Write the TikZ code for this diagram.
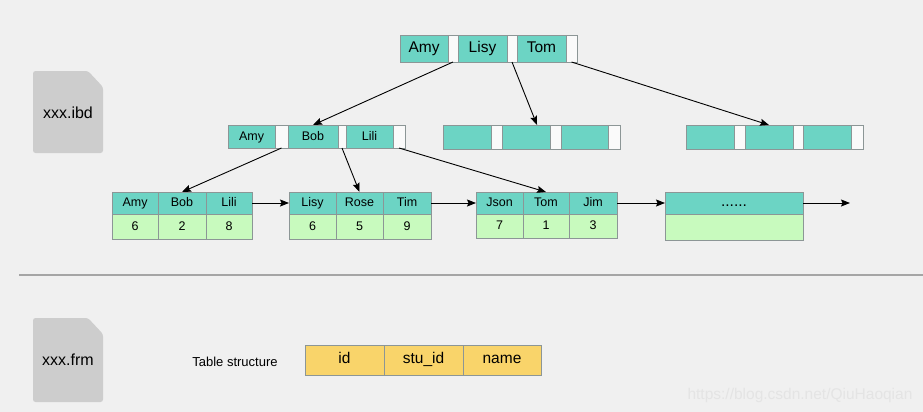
\documentclass[tikz,border=0pt]{standalone}
\usepackage{fontspec}
\setmainfont{Liberation Sans}
\usetikzlibrary{arrows.meta,shadows,calc}
\definecolor{bg}{RGB}{240,240,240}
\definecolor{teal1}{RGB}{108,212,196}
\definecolor{green1}{RGB}{200,250,190}
\definecolor{yellow1}{RGB}{249,212,106}
\definecolor{white1}{RGB}{250,250,250}
\definecolor{cellborder}{RGB}{140,150,150}
\definecolor{filegray}{RGB}{205,205,205}
\definecolor{sepgray}{RGB}{165,165,165}
\definecolor{wmark}{RGB}{228,228,228}
\newcommand\cellbox[7]{\node[#6, minimum width={#4-#2}, minimum height={#5-#3}] (#1) at (#2,#3) {#7};}
\begin{document}
\begin{tikzpicture}[x=1pt,y=-1pt,
  cell/.style={draw=cellborder, line width=0.8pt, anchor=north west, inner sep=0pt, outer sep=0pt, text=black,
    text height=1.75ex, text depth=0.35ex,
    drop shadow={shadow xshift=0pt, shadow yshift=-1.3pt, opacity=0.25}},
  tealc/.style={cell, fill=teal1},
  whitec/.style={cell, fill=white1},
  greenc/.style={cell, fill=green1},
  yellowc/.style={cell, fill=yellow1, font=\fontsize{15.5}{18}\selectfont},
  rootf/.style={font=\fontsize{15.5}{18}\selectfont},
  midf/.style={font=\fontsize{12.5}{15}\selectfont},
  arr/.style={-{Stealth[length=9pt,width=7pt,inset=1.5pt]}, line width=0.9pt, black},
  filebox/.style={fill=filegray, rounded corners=2.5pt},
  filetext/.style={font=\fontsize{16}{19}\selectfont}]
\fill[bg] (0,0) rectangle (923,412);
\useasboundingbox (0,0) rectangle (923,412);

% file icons
\fill[filebox] (33,71) -- (88,71) -- (103,87) -- (103,153) -- (33,153) -- cycle;
\node[filetext] (ibd) at (68,113) {xxx.ibd};
\fill[filebox] (33,318) -- (88,318) -- (103,334) -- (103,402) -- (33,402) -- cycle;
\node[filetext] (frm) at (68,360) {xxx.frm};

% separator
\draw[sepgray, line width=1.3pt] (19,275) -- (923,275);

% root
\cellbox{r1}{400}{35}{448}{62}{tealc,rootf}{Amy}
\cellbox{r1w}{448}{35}{458}{62}{whitec}{}
\cellbox{r2}{458}{35}{507}{62}{tealc,rootf}{Lisy}
\cellbox{r2w}{507}{35}{517}{62}{whitec}{}
\cellbox{r3}{517}{35}{566}{62}{tealc,rootf}{Tom}
\cellbox{r3w}{566}{35}{577}{62}{whitec}{}

% level 2 left
\cellbox{la}{228}{125}{275}{148}{tealc,midf}{Amy}
\cellbox{law}{275}{125}{288}{148}{whitec}{}
\cellbox{lb}{288}{125}{338}{148}{tealc,midf}{Bob}
\cellbox{lbw}{338}{125}{346}{148}{whitec}{}
\cellbox{lc}{346}{125}{393}{148}{tealc,midf}{Lili}
\cellbox{lcw}{393}{125}{405}{148}{whitec}{}

% level 2 middle
\cellbox{m1}{443}{125}{491}{149}{tealc}{}
\cellbox{m1w}{491}{125}{502}{149}{whitec}{}
\cellbox{m2}{502}{125}{550}{149}{tealc}{}
\cellbox{m2w}{550}{125}{561}{149}{whitec}{}
\cellbox{m3}{561}{125}{608}{149}{tealc}{}
\cellbox{m3w}{608}{125}{620}{149}{whitec}{}

% level 2 right
\cellbox{n1}{686}{125}{734}{149}{tealc}{}
\cellbox{n1w}{734}{125}{745}{149}{whitec}{}
\cellbox{n2}{745}{125}{793}{149}{tealc}{}
\cellbox{n2w}{793}{125}{803}{149}{whitec}{}
\cellbox{n3}{803}{125}{851}{149}{tealc}{}
\cellbox{n3w}{851}{125}{863}{149}{whitec}{}

% leaf 1
\cellbox{f1a}{112}{192}{158}{214}{tealc,midf}{Amy}
\cellbox{f1b}{158}{192}{206}{214}{tealc,midf}{Bob}
\cellbox{f1c}{206}{192}{252}{214}{tealc,midf}{Lili}
\cellbox{g1a}{112}{214}{158}{239}{greenc,midf}{6}
\cellbox{g1b}{158}{214}{206}{239}{greenc,midf}{2}
\cellbox{g1c}{206}{214}{252}{239}{greenc,midf}{8}

% leaf 2
\cellbox{f2a}{289}{192}{336}{214}{tealc,midf}{Lisy}
\cellbox{f2b}{336}{192}{383}{214}{tealc,midf}{Rose}
\cellbox{f2c}{383}{192}{431}{214}{tealc,midf}{Tim}
\cellbox{g2a}{289}{214}{336}{239}{greenc,midf}{6}
\cellbox{g2b}{336}{214}{383}{239}{greenc,midf}{5}
\cellbox{g2c}{383}{214}{431}{239}{greenc,midf}{9}

% leaf 3
\cellbox{f3a}{476}{192}{523}{214}{tealc,midf}{Json}
\cellbox{f3b}{523}{192}{569}{214}{tealc,midf}{Tom}
\cellbox{f3c}{569}{192}{617}{214}{tealc,midf}{Jim}
\cellbox{g3a}{476}{214}{523}{238}{greenc,midf}{7}
\cellbox{g3b}{523}{214}{569}{238}{greenc,midf}{1}
\cellbox{g3c}{569}{214}{617}{238}{greenc,midf}{3}

% leaf 4
\cellbox{f4t}{665}{192}{803}{214}{tealc,rootf}{......}
\cellbox{f4b}{665}{214}{803}{240}{greenc}{}

% table structure
\node[font=\fontsize{13}{16}\selectfont] (tslabel) at (235,362) {Table structure};
\cellbox{t1}{305}{345}{384}{375}{yellowc}{id}
\cellbox{t2}{384}{345}{463}{375}{yellowc}{stu\_id}
\cellbox{t3}{463}{345}{541}{375}{yellowc}{name}

% connectors
\draw[arr] (r1w.south) -- (lb.north);
\draw[arr] (r2w.south) -- ([xshift=11pt]m2.north);
\draw[arr] (r3w.south) -- (n2.north);
\draw[arr] (law.south) -- (f1b.north);
\draw[arr] (lbw.south) -- (f2b.north);
\draw[arr] (lcw.south) -- (f3b.north);
\draw[arr] (f1c.east) -- (f2a.west);
\draw[arr] (f2c.east) -- (f3a.west);
\draw[arr] (f3c.east) -- (f4t.west);
\coordinate (endp) at (850,203);
\draw[arr] (f4t.east) -- (endp);

% watermark
\node[text=wmark, font=\fontsize{15.5}{18}\selectfont, anchor=west] (wm) at (684,395) {https://blog.csdn.net/QiuHaoqian};
\end{tikzpicture}
\end{document}
